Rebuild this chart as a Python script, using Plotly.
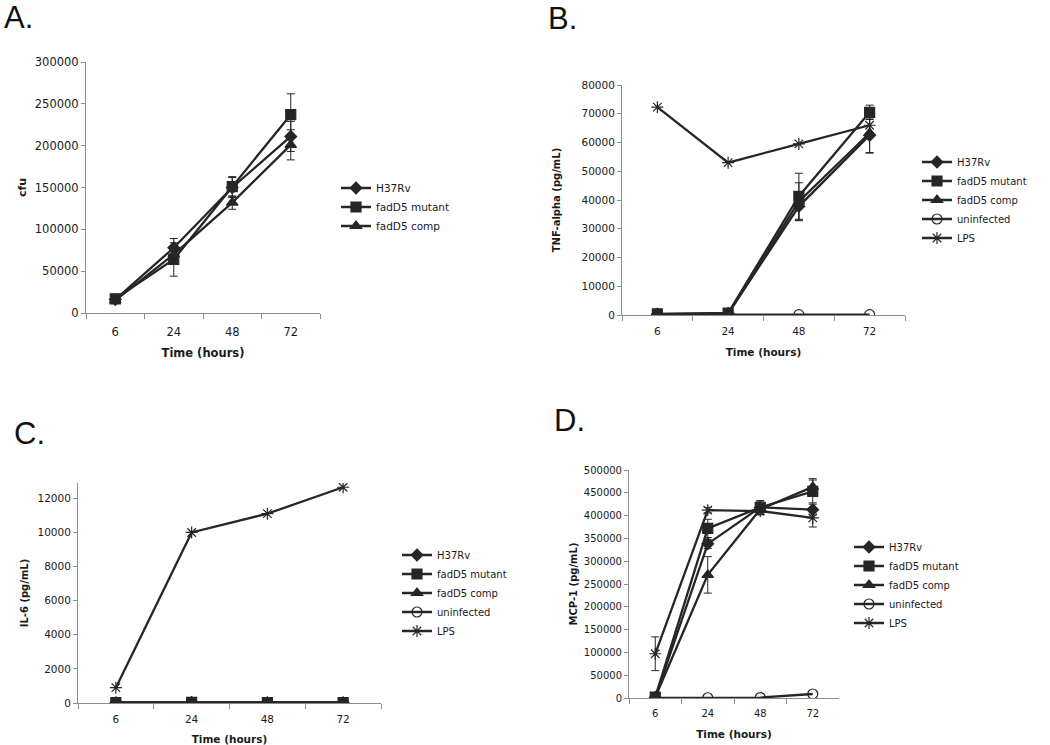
import plotly.graph_objects as go

# ---------------- data ----------------
times = ["6", "24", "48", "72"]
series_names = ["H37Rv", "fadD5 mutant", "fadD5 comp", "uninfected", "LPS"]

# Panel A: cfu
a_h37rv = [16000, 78000, 150000, 211000]
a_h37rv_err = [2000, 11000, 12000, 18000]
a_mutant = [17000, 64000, 151000, 237000]
a_mutant_err = [2000, 20000, 12000, 25000]
a_comp = [15000, 70000, 132000, 201000]
a_comp_err = [2000, 6000, 8000, 18000]

# Panel B: TNF-alpha (pg/mL)
b_h37rv = [300, 500, 37800, 62500]
b_h37rv_err = [100, 200, 5000, 6000]
b_mutant = [400, 700, 41300, 70500]
b_mutant_err = [100, 200, 8000, 2500]
b_comp = [200, 400, 39500, 63300]
b_comp_err = [100, 200, 6500, 7000]
b_uninf = [100, 100, 100, 100]
b_lps = [72300, 53000, 59500, 66000]

# Panel C: IL-6 (pg/mL)
c_h37rv = [20, 30, 20, 20]
c_mutant = [30, 40, 30, 30]
c_comp = [20, 30, 20, 20]
c_uninf = [10, 10, 10, 10]
c_lps = [900, 10000, 11100, 12650]

# Panel D: MCP-1 (pg/mL)
d_h37rv = [1000, 338000, 418000, 413000]
d_h37rv_err = [500, 10000, 12000, 12000]
d_mutant = [2000, 372000, 418000, 453000]
d_mutant_err = [500, 20000, 15000, 25000]
d_comp = [1500, 270000, 414000, 463000]
d_comp_err = [500, 40000, 12000, 18000]
d_uninf = [300, 500, 1000, 8800]
d_lps = [97000, 412000, 410000, 395000]
d_lps_err = [37000, 6000, 8000, 20000]

# ---------------- styling ----------------
W, H = 1050, 745
FONT = "DejaVu Sans"
INK = "#262626"
AXIS = "#8c8c8c"
symbols = {"H37Rv": ("diamond", 9), "fadD5 mutant": ("square", 10),
           "fadD5 comp": ("triangle-up", 10), "uninfected": ("circle-open", 10),
           "LPS": ("asterisk-open", 10)}


def px_x(p):
    return p / W


def px_y(p):
    return 1 - p / H


fig = go.Figure()


def add(panel, name, y, err=None):
    sym, size = symbols[name]
    axn = "" if panel == 1 else str(panel)
    legend = "legend" if panel == 1 else f"legend{panel}"
    tr = dict(
        x=times, y=y, name=name, mode="lines+markers",
        line=dict(color=INK, width=2.3),
        marker=dict(symbol=sym, size=size, color=INK,
                    line=dict(color=INK, width=1.2)),
        xaxis="x" + axn, yaxis="y" + axn, legend=legend,
    )
    if err is not None:
        tr["error_y"] = dict(type="data", array=err, visible=True,
                             color=INK, thickness=1, width=4)
    fig.add_trace(go.Scatter(**tr))


add(1, "H37Rv", a_h37rv, a_h37rv_err)
add(1, "fadD5 mutant", a_mutant, a_mutant_err)
add(1, "fadD5 comp", a_comp, a_comp_err)

add(2, "H37Rv", b_h37rv, b_h37rv_err)
add(2, "fadD5 mutant", b_mutant, b_mutant_err)
add(2, "fadD5 comp", b_comp, b_comp_err)
add(2, "uninfected", b_uninf)
add(2, "LPS", b_lps)

add(3, "H37Rv", c_h37rv)
add(3, "fadD5 mutant", c_mutant)
add(3, "fadD5 comp", c_comp)
add(3, "uninfected", c_uninf)
add(3, "LPS", c_lps)

add(4, "H37Rv", d_h37rv, d_h37rv_err)
add(4, "fadD5 mutant", d_mutant, d_mutant_err)
add(4, "fadD5 comp", d_comp, d_comp_err)
add(4, "uninfected", d_uninf)
add(4, "LPS", d_lps, d_lps_err)

# panel geometry in pixels: (left, right, top, bottom)
panels = {
    1: dict(box=(86, 320, 62, 313), yr=[0, 300000], dt=50000, title="cfu",
            tfs=11.5, fs=11, ystand=5, xstand=11, xlab=8),
    2: dict(box=(622, 905, 85, 315), yr=[0, 80000], dt=10000, title="TNF-alpha (pg/mL)",
            tfs=10.5, fs=10, ystand=18, xstand=13, xlab=6),
    3: dict(box=(78, 381, 483, 703), yr=[0, 12900], dt=2000, title="IL-6 (pg/mL)",
            tfs=10.5, fs=10, ystand=6, xstand=12, xlab=6),
    4: dict(box=(629, 839, 470, 698), yr=[0, 500000], dt=50000, title="MCP-1 (pg/mL)",
            tfs=10, fs=10, ystand=4, xstand=12, xlab=6),
}

layout = dict(
    width=W, height=H, margin=dict(l=0, r=0, t=0, b=0, autoexpand=False),
    paper_bgcolor="white", plot_bgcolor="white",
    font=dict(family=FONT, color="#1a1a1a", size=10),
)

for k, p in panels.items():
    l, r, t, b = p["box"]
    axn = "" if k == 1 else str(k)
    layout["xaxis" + axn] = dict(
        domain=[px_x(l), px_x(r)], anchor="y" + axn, automargin=False,
        type="category", range=[-0.5, 3.5],
        showline=True, linecolor=AXIS, linewidth=1,
        ticks="outside", tickson="boundaries", ticklen=5, tickcolor=AXIS,
        showgrid=False, zeroline=False,
        tickfont=dict(family=FONT, size=p["tfs"], color="#1a1a1a"),
        ticklabelstandoff=p["xlab"],
        title=dict(text="<b>Time (hours)</b>", standoff=p["xstand"],
                   font=dict(family=FONT, size=p["fs"] + 0.5, color="#1a1a1a")),
    )
    layout["yaxis" + axn] = dict(
        domain=[px_y(b), px_y(t)], anchor="x" + axn, automargin=False,
        range=p["yr"], dtick=p["dt"], tick0=0,
        showline=True, linecolor=AXIS, linewidth=1,
        ticks="outside", ticklen=4, tickcolor=AXIS,
        showgrid=False, zeroline=False,
        tickformat="d",
        tickfont=dict(family=FONT, size=p["tfs"], color="#1a1a1a"),
        title=dict(text="<b>" + p["title"] + "</b>", standoff=p["ystand"],
                   font=dict(family=FONT, size=p["fs"], color="#1a1a1a")),
    )

leg_common = dict(bgcolor="rgba(0,0,0,0)", borderwidth=0, xanchor="left",
                  yanchor="middle", tracegroupgap=0)
layout["legend"] = dict(x=px_x(336), y=px_y(207), font=dict(family=FONT, size=10.5), **leg_common)
layout["legend2"] = dict(x=px_x(917), y=px_y(200), font=dict(family=FONT, size=10), **leg_common)
layout["legend3"] = dict(x=px_x(397), y=px_y(593), font=dict(family=FONT, size=10), **leg_common)
layout["legend4"] = dict(x=px_x(849), y=px_y(585), font=dict(family=FONT, size=10), **leg_common)

letter_font = dict(family="Liberation Sans", size=31, color="#111111")
letters = [("A.", 2, 17), ("B.", 546, 18), ("C.", 12, 434), ("D.", 552, 420)]
layout["annotations"] = [
    dict(text=t, x=px_x(x), y=px_y(y), xref="paper", yref="paper",
         xanchor="left", yanchor="middle", showarrow=False, font=letter_font)
    for t, x, y in letters
]

fig.update_layout(**layout)
fig.write_html("out.html", config={"displayModeBar": False},
               post_script="document.body.style.margin='0px';")
